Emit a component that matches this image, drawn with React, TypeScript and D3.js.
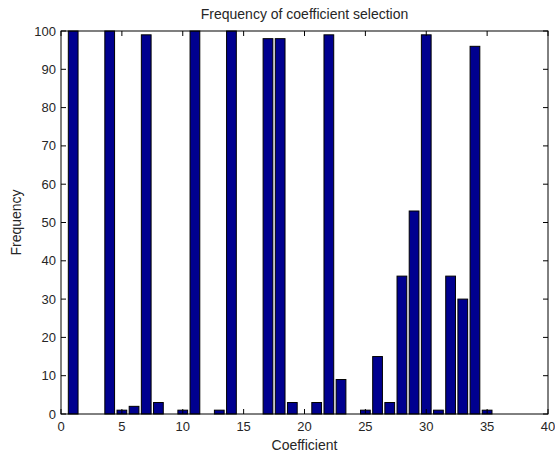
import React from "react";
import * as d3 from "d3";

const coefficients = [1, 2, 3, 4, 5, 6, 7, 8, 9, 10, 11, 12, 13, 14, 15, 16, 17, 18, 19, 20, 21, 22, 23, 24, 25, 26, 27, 28, 29, 30, 31, 32, 33, 34, 35];
const frequency = [100, 0, 0, 100, 1, 2, 99, 3, 0, 1, 100, 0, 1, 100, 0, 0, 98, 98, 3, 0, 3, 99, 9, 0, 1, 15, 3, 36, 53, 99, 1, 36, 30, 96, 1];
const xTicks = [0, 5, 10, 15, 20, 25, 30, 35, 40];
const yTicks = [0, 10, 20, 30, 40, 50, 60, 70, 80, 90, 100];

const W = 555, H = 455;
const L = 61, R = 548, T = 31, B = 414;

export default function App() {
  const x = d3.scaleLinear().domain([0, 40]).range([L, R]);
  const y = d3.scaleLinear().domain([0, 100]).range([B, T]);
  const bw = (x(1) - x(0)) * 0.8;
  const font = "'Liberation Sans', Arial, sans-serif";
  const tl = 5;
  const col = "#262626";
  return (
    <svg width={W} height={H} style={{ position: "absolute", left: 0, top: 0, background: "#fff" }}>
      <rect x={0} y={0} width={W} height={H} fill="#fff" />
      {coefficients.map((c, i) =>
        frequency[i] > 0 ? (
          <rect key={c} x={x(c) - bw / 2} y={y(frequency[i])} width={bw} height={y(0) - y(frequency[i])}
            fill="#00008f" stroke="#000" strokeWidth={1} />
        ) : null
      )}
      <rect x={L} y={T} width={R - L} height={B - T} fill="none" stroke="#000" strokeWidth={1} />
      {xTicks.map(t => (
        <g key={"x" + t}>
          <line x1={x(t)} x2={x(t)} y1={B} y2={B - tl} stroke="#000" />
          <line x1={x(t)} x2={x(t)} y1={T} y2={T + tl} stroke="#000" />
          <text x={x(t)} y={B + 17} textAnchor="middle" fontSize={13} fontFamily={font} fill={col}>{t}</text>
        </g>
      ))}
      {yTicks.map(t => (
        <g key={"y" + t}>
          <line x1={L} x2={L + tl} y1={y(t)} y2={y(t)} stroke="#000" />
          <line x1={R} x2={R - tl} y1={y(t)} y2={y(t)} stroke="#000" />
          <text x={L - 5} y={y(t) + 4.5} textAnchor="end" fontSize={13} fontFamily={font} fill={col}>{t}</text>
        </g>
      ))}
      <text x={(L + R) / 2} y={19} textAnchor="middle" fontSize={14} fontFamily={font} fill={col}>Frequency of coefficient selection</text>
      <text x={(L + R) / 2} y={450} textAnchor="middle" fontSize={14} fontFamily={font} fill={col}>Coefficient</text>
      <text transform={`translate(21,${(T + B) / 2}) rotate(-90)`} textAnchor="middle" fontSize={14} fontFamily={font} fill={col}>Frequency</text>
    </svg>
  );
}
